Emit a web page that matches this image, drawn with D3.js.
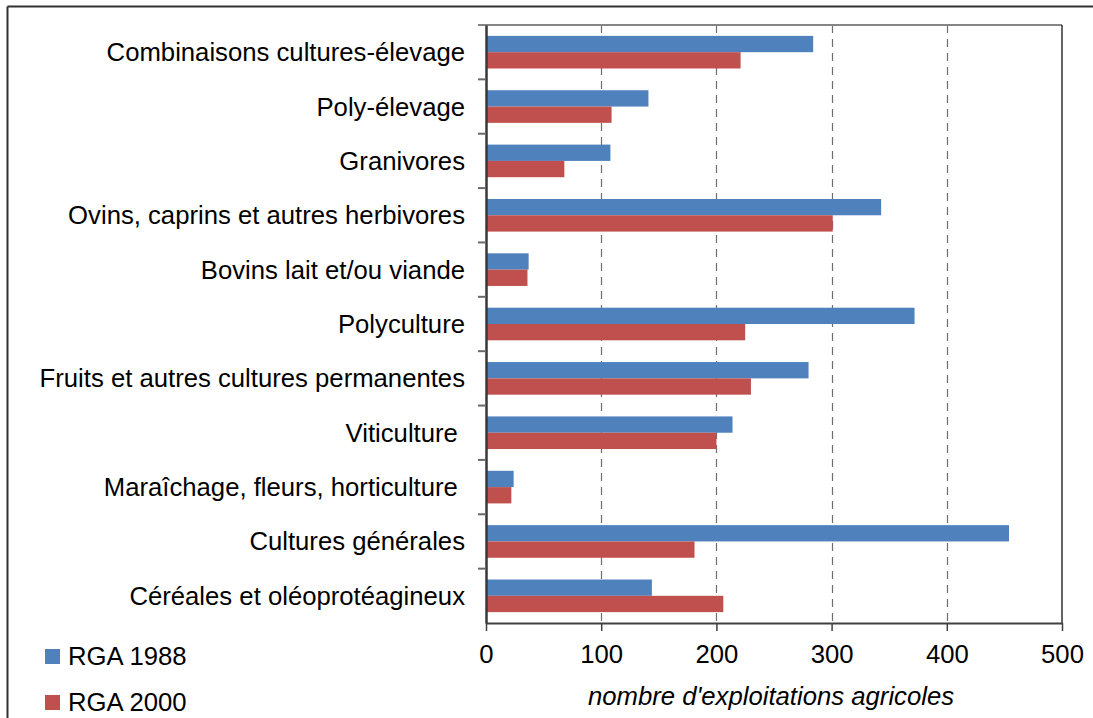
<!DOCTYPE html>
<html>
<head>
<meta charset="utf-8">
<script src="https://cdn.jsdelivr.net/npm/d3@7"></script>
<style>
  html, body { margin: 0; padding: 0; background: #fff; }
  svg { display: block; }
  text { font-family: "Liberation Sans", Arial, sans-serif; fill: #000; white-space: pre; }
</style>
</head>
<body>
<svg id="chart" width="1093" height="718"></svg>
<script>
// ---- Data ----
const categories = [
  "Combinaisons cultures-élevage",
  "Poly-élevage",
  "Granivores",
  "Ovins, caprins et autres herbivores",
  "Bovins lait et/ou viande",
  "Polyculture",
  "Fruits et autres cultures permanentes",
  "Viticulture ",
  "Maraîchage, fleurs, horticulture ",
  "Cultures générales",
  "Céréales et oléoprotéagineux"
];
const seriesNames = ["RGA 1988", "RGA 2000"];
const rga1988 = [284, 141, 108, 343, 37, 372, 280, 214, 24, 454, 144];
const rga2000 = [221, 109, 68, 301, 36, 225, 230, 200, 22, 181, 206];
const xTicks = [0, 100, 200, 300, 400, 500];
const axisTitle = "nombre d'exploitations agricoles";
const colors = ["#4F81BD", "#C0504D"];

// ---- Layout ----
const FS = 25.7;
const svg = d3.select("#chart");
const plot = { left: 486, right: 1062, top: 25, bottom: 623 };

const x = d3.scaleLinear().domain([0, 500]).range([plot.left, plot.right]);
const y = d3.scaleBand().domain(categories).range([plot.top, plot.bottom]).padding(0);
const ySub = d3.scaleBand().domain(seriesNames).range([0, y.bandwidth()])
  .paddingInner(0).paddingOuter(0.667);

const values = [rga1988, rga2000];

// outer frame (only top and left visible)
svg.append("line").attr("x1", 7.5).attr("x2", 1093).attr("y1", 6.5).attr("y2", 6.5)
  .attr("stroke", "#303030").attr("stroke-width", 2);
svg.append("line").attr("x1", 7.5).attr("x2", 7.5).attr("y1", 6.5).attr("y2", 718)
  .attr("stroke", "#303030").attr("stroke-width", 2);

// gridlines (dashed)
svg.append("g").selectAll("line")
  .data(xTicks.filter(t => t > 0 && t < 500))
  .join("line")
  .attr("x1", d => Math.round(x(d)) + 0.5).attr("x2", d => Math.round(x(d)) + 0.5)
  .attr("y1", plot.top).attr("y2", plot.bottom)
  .attr("stroke", "#6e6e6e").attr("stroke-width", 1.2)
  .attr("stroke-dasharray", "8,6");

// bars
seriesNames.forEach((s, si) => {
  svg.append("g").selectAll("rect")
    .data(categories.map((c, i) => ({ c, v: values[si][i] })))
    .join("rect")
    .attr("x", x(0))
    .attr("y", d => y(d.c) + ySub(s))
    .attr("width", d => x(d.v) - x(0))
    .attr("height", ySub.bandwidth())
    .attr("fill", colors[si]);
});

// top border of plot (gray)
svg.append("line").attr("x1", plot.left - 8).attr("x2", plot.right)
  .attr("y1", plot.top).attr("y2", plot.top)
  .attr("stroke", "#858585").attr("stroke-width", 2);
// right border
svg.append("line").attr("x1", plot.right).attr("x2", plot.right)
  .attr("y1", plot.top).attr("y2", plot.bottom)
  .attr("stroke", "#303030").attr("stroke-width", 1.5);

// x axis
const xAxis = d3.axisBottom(x).tickValues(xTicks).tickSize(8).tickSizeOuter(0).tickPadding(14);
const gx = svg.append("g").attr("transform", `translate(0,${plot.bottom})`).call(xAxis);
gx.select(".domain").attr("stroke", "#404040").attr("stroke-width", 2);
gx.selectAll(".tick line").attr("stroke", "#404040").attr("stroke-width", 1.5);
gx.selectAll(".tick text").attr("font-size", FS).attr("font-family", "Liberation Sans, Arial, sans-serif")
  .attr("fill", "#000");

// y axis (ticks between categories)
const yAxis = d3.axisLeft(y).tickSize(0).tickPadding(21);
const gy = svg.append("g").attr("transform", `translate(${plot.left},0)`).call(yAxis);
gy.select(".domain").attr("stroke", "#383838").attr("stroke-width", 2.5);
gy.selectAll(".tick text").attr("font-size", FS).attr("font-family", "Liberation Sans, Arial, sans-serif")
  .attr("fill", "#000").attr("dy", "0.35em").style("white-space", "pre");
// separator ticks between bands
svg.append("g").selectAll("line")
  .data(categories.slice(1))
  .join("line")
  .attr("x1", plot.left - 8).attr("x2", plot.left)
  .attr("y1", d => y(d)).attr("y2", d => y(d))
  .attr("stroke", "#6a6a6a").attr("stroke-width", 2);

// axis title
svg.append("text").attr("x", (plot.left + plot.right) / 2 - 3).attr("y", 705)
  .attr("text-anchor", "middle").attr("font-size", FS).attr("font-style", "italic")
  .text(axisTitle);

// legend
const legendY = [656, 702];
seriesNames.forEach((s, i) => {
  svg.append("rect").attr("x", 45).attr("y", legendY[i] - 7).attr("width", 15).attr("height", 15)
    .attr("fill", colors[i]);
  svg.append("text").attr("x", 68).attr("y", legendY[i] + 9)
    .attr("font-size", FS).text(s);
});
</script>
</body>
</html>
